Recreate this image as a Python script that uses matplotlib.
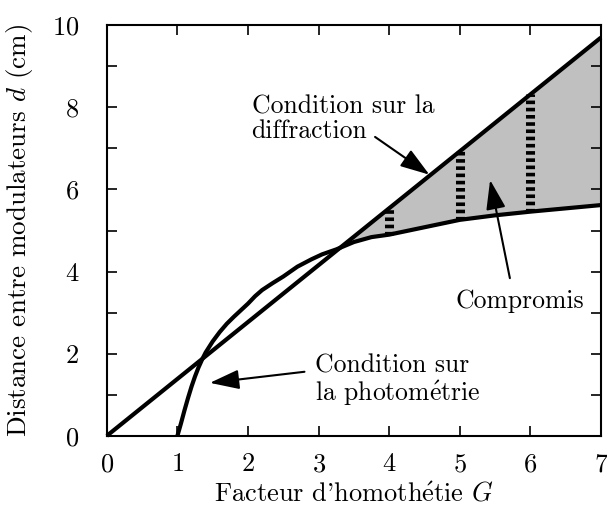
import numpy as np
import matplotlib.pyplot as plt

plt.rcParams['font.family'] = ['cmr10', 'DejaVu Serif']
plt.rcParams['mathtext.fontset'] = 'cm'
plt.rcParams['axes.formatter.use_mathtext'] = True
plt.rcParams['font.size'] = 19

# condition sur la diffraction : droite d = a*G
G_diff = [0, 7]
d_diff = [0, 9.7]

# condition sur la photometrie
G_phot = [1.0, 1.05, 1.1, 1.15, 1.2, 1.25, 1.3, 1.35, 1.4, 1.5, 1.6, 1.7,
          1.8, 1.9, 2.0, 2.1, 2.2, 2.35, 2.5, 2.7, 2.9, 3.05, 3.25, 3.5, 3.75,
          4.0, 4.5, 5.0, 5.5, 6.0, 6.5, 7.0]
d_phot = [0.0, 0.3, 0.62, 0.92, 1.2, 1.45, 1.67, 1.86, 2.03, 2.3, 2.53, 2.73,
          2.9, 3.06, 3.22, 3.4, 3.55, 3.72, 3.88, 4.12, 4.3, 4.42, 4.54,
          4.72, 4.84, 4.9, 5.08, 5.26, 5.37, 5.46, 5.54, 5.62]

G_comp = [4, 5, 6]

fig = plt.figure(figsize=(6.07, 5.05), dpi=100)
ax = fig.add_axes([0.176, 0.137, 0.814, 0.813])

G = np.linspace(0, 7, 600)
d1 = np.interp(G, G_diff, d_diff)
d2 = np.interp(G, G_phot, d_phot, left=np.nan)
ax.fill_between(G, d1, d2, where=(G > 3) & (d1 > d2), color='#c0c0c0',
                interpolate=True, lw=0)

ax.plot(G_diff, d_diff, 'k', lw=3, solid_capstyle='butt', clip_on=False)
ax.plot(G_phot, d_phot, 'k', lw=3, solid_joinstyle='round')

for g in G_comp:
    y0 = np.interp(g, G_phot, d_phot)
    y1 = np.interp(g, G_diff, d_diff)
    ax.plot([g, g], [y0, y1], 'k', lw=6.5, ls=(0, (0.4, 0.4)))

arr = dict(arrowstyle='-|>,head_length=0.9,head_width=0.3', color='k',
           lw=1.5, mutation_scale=20, shrinkA=0, shrinkB=0)
ax.annotate('', xy=(4.57, 6.36), xytext=(3.8, 7.28), arrowprops=arr)
ax.text(2.05, 8.3, 'Condition sur la\ndiffraction', ha='left', va='top',
        linespacing=1.05, fontsize=18.5)
ax.annotate('', xy=(5.43, 6.23), xytext=(5.71, 3.84), arrowprops=arr)
ax.text(5.85, 3.28, 'Compromis', ha='center', va='center', fontsize=18.5)
ax.annotate('', xy=(1.46, 1.29), xytext=(2.8, 1.56), arrowprops=arr)
ax.text(2.95, 2.0, 'Condition sur\nla photom$\\mathrm{\\acute{e}}$trie',
        ha='left', va='top', linespacing=1.05, fontsize=18.5)

ax.set_xlim(0, 7)
ax.set_ylim(0, 10)
ax.set_xticks(range(0, 8))
ax.set_yticks(range(0, 11, 2))
ax.set_yticks(range(1, 10, 2), minor=True)
ax.tick_params(which='both', direction='in', top=True, right=True,
               width=1.2, labelsize=19)
ax.tick_params(which='major', length=7)
ax.tick_params(which='minor', length=7)
ax.tick_params(axis='x', which='major', pad=12)
ax.tick_params(axis='y', which='major', pad=20)
for s in ax.spines.values():
    s.set_linewidth(1.5)

ax.set_xlabel("Facteur d'homoth$\\mathrm{\\acute{e}}$tie $G$", labelpad=4)
ax.set_ylabel('Distance entre modulateurs $d$ (cm)', fontsize=19.5,
              labelpad=12)

fig.savefig('out.png', dpi=100)
